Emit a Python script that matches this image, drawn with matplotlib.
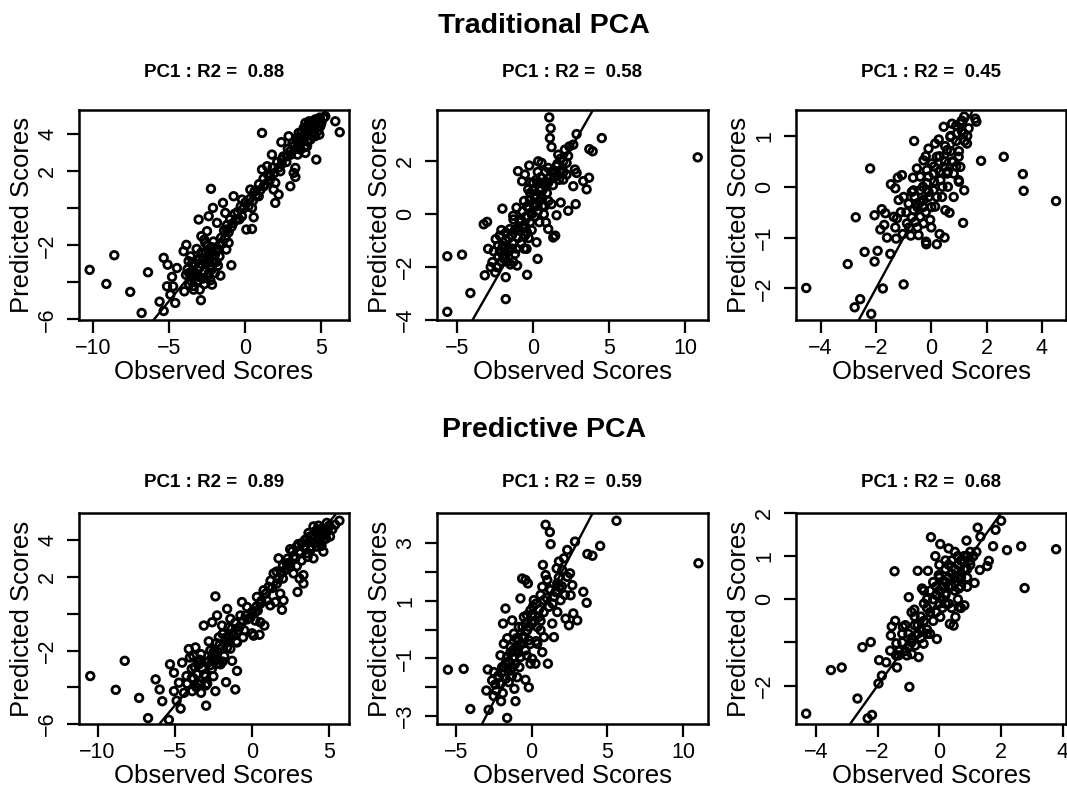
import numpy as np
import matplotlib
matplotlib.use("Agg")
import matplotlib.pyplot as plt

plt.rcParams['font.family'] = ['Liberation Sans', 'DejaVu Sans']

# ---------------- data (observed, predicted) ----------------
trad_pc1 = np.array([
    (-10.24,-3.33),(-9.14,-4.09),(-8.62,-2.54),(-7.57,-4.52),(-6.82,-5.66),(-6.40,-3.46),
    (-5.64,-5.05),(-5.37,-5.55),(-5.37,-2.68),(-5.11,-3.05),(-4.82,-3.71),(-5.15,-4.22),
    (-4.61,-5.12),(-4.93,-4.67),(-4.75,-4.22),(-4.50,-3.23),(-4.06,-2.32),(-3.88,-1.98),
    (-4.01,-4.49),(-3.73,-2.86),(-3.51,-3.41),(-3.40,-4.40),(-3.18,-3.95),(-2.92,-4.97),
    (-3.07,-0.61),(-2.89,-1.51),(-2.41,-0.43),(-2.26,1.05),(-2.13,0.02),(-2.52,-1.24),
    (-2.63,-1.87),(-2.30,-2.41),(-2.08,-2.95),(-2.19,-4.13),(-1.64,-3.64),(-1.86,-0.79),
    (-1.47,0.29),(-1.32,-0.25),(-1.21,-1.15),(-1.10,-1.87),(-0.92,-3.08),(-1.25,-2.23),
    (-0.77,0.65),(-0.59,-0.61),(-0.22,-0.43),(-0.22,0.47),(0.07,-1.15),(0.44,-1.12),
    (0.33,1.01),(0.55,-0.49),(0.44,0.02),(0.88,0.65),(1.10,4.07),(1.10,2.09),(1.21,1.19),
    (1.43,2.27),(1.75,2.90),(1.64,1.73),(1.97,0.29),(2.19,0.74),(1.97,1.37),(1.86,1.01),
    (2.30,2.00),(2.41,2.63),(2.37,3.57),(2.96,1.19),(2.85,3.89),(3.18,1.91),(3.29,1.69),
    (3.29,2.18),(3.44,2.90),(3.62,3.17),(3.95,2.99),(4.06,3.35),(4.28,3.71),(3.95,4.61),
    (4.67,2.63),(4.39,4.25),(4.71,4.79),(5.15,4.88),(5.26,4.97),(5.92,4.70),(6.21,4.11),
    (4.87,3.98),(4.50,4.61),(4.17,4.25),(3.73,3.89),(3.40,3.62),(3.18,3.35),(2.96,3.08),
    (2.74,2.81),(3.51,4.07),(3.84,4.34),(4.93,4.43),
    (-3.3,-3.5),(-3.0,-3.2),(-2.8,-3.8),(-2.6,-3.0),(-2.4,-2.7),(-2.2,-3.3),(-2.0,-2.5),
    (-3.2,-2.8),(-3.6,-3.9),(-2.9,-2.4),(-2.5,-2.0),(-2.1,-1.8),(-1.8,-2.2),(-1.6,-1.6),
    (-1.4,-1.2),(-1.2,-0.9),(-1.0,-0.6),(-0.8,-0.8),(-0.5,-0.2),(-0.3,0.1),(0.0,0.3),
    (0.3,0.5),(0.6,0.9),(0.9,1.3),(1.2,1.6),(1.5,1.8),(1.8,2.2),(2.1,2.5),(2.5,2.8),
    (2.8,3.2),(3.1,3.5),(3.4,3.8),(3.7,4.1),(4.0,4.4),(4.3,4.6),(4.6,4.5),(4.8,4.2),
    (4.4,3.9),(4.1,3.6),(3.9,3.3),(-3.4,-4.2),(-3.0,-4.4),(-2.7,-4.1),(-2.3,-3.9),
    (-3.8,-3.3),(-3.5,-3.0),(-2.6,-2.4),(-2.2,-2.1),(-1.9,-2.9),(-1.7,-2.6),(-2.4,-3.5),
    (-3.9,-3.6),(-3.7,-4.1),(-3.5,-3.6),(-3.3,-3.0),(-3.1,-3.7),(-2.9,-3.0),(-2.7,-3.4),
    (-2.5,-2.9),(-2.3,-3.1),(-2.1,-2.6),(-1.9,-2.3),(-1.7,-2.0),(-1.5,-1.9),(-1.3,-1.6),
    (-1.1,-1.3),(-0.9,-1.0),(-0.7,-0.3),(-0.4,-0.6),(-0.1,0.0),(0.2,0.1),(0.5,0.4),
    (0.7,0.7),(1.0,1.0),(1.3,1.3),(1.6,1.5),(1.9,1.9),(2.2,2.2),(2.4,2.4),(2.7,2.5),
    (3.0,2.9),(3.3,3.2),(3.6,3.6),(3.8,3.8),(4.1,4.1),(4.3,4.3),(4.5,4.1),(4.6,4.8),
    (4.8,4.6),(4.4,4.5),(4.2,4.7),(4.0,3.9),(3.7,3.6),(4.9,4.9),(5.0,4.6),(4.6,3.9),
    (-3.6,-2.6),(-3.2,-2.2),(-2.7,-1.7),(-2.8,-2.8),(-3.0,-2.7),(-2.5,-3.7),(-3.7,-3.5),
    (-2.0,-3.5),(-1.8,-3.1),
])

trad_pc2 = np.array([
    (-5.66,-3.69),(-5.66,-1.59),(-4.69,-1.53),(-4.14,-2.98),(-3.19,-2.31),(-2.97,-1.31),
    (-3.26,-0.38),(-3.04,-0.29),(-2.69,-1.81),(-2.47,-0.94),(-2.20,-0.81),(-2.03,0.21),
    (-1.81,-2.38),(-1.81,-3.21),(-2.31,-1.19),(-1.98,-1.56),(-1.65,-1.31),(-1.54,-0.56),
    (-1.32,-0.06),(-1.10,0.25),(-1.06,-1.94),(-1.32,-1.81),(-1.00,1.63),(-0.73,1.25),
    (-0.55,1.50),(-0.40,-2.29),(-0.26,1.84),(-0.33,0.94),(-0.22,0.56),(-0.66,-0.44),
    (-0.55,-0.81),(-0.44,-1.31),(0.00,1.19),(0.29,-1.69),(0.22,-1.06),(0.33,2.00),
    (0.55,1.94),(0.55,0.94),(0.77,0.31),(0.84,-0.31),(1.06,3.66),(1.15,3.25),(1.10,2.88),
    (1.21,2.54),(0.99,1.75),(0.99,-0.56),(1.32,-0.88),(1.45,-0.81),(1.54,-0.04),(1.21,0.38),
    (1.65,2.25),(1.81,0.44),(1.98,1.31),(2.09,2.44),(2.31,0.13),(2.38,2.56),(2.64,2.63),
    (2.64,1.06),(2.80,0.38),(2.86,3.03),(2.75,1.69),(2.86,1.56),(3.30,1.25),(3.52,0.94),
    (3.68,1.38),(3.70,2.46),(3.92,2.38),(4.52,2.88),(10.84,2.15),(2.20,1.94),(1.98,2.00),
    (1.76,1.63),(1.54,1.81),
    (-2.3,-1.6),(-2.0,-1.2),(-1.8,-1.0),(-1.6,-1.4),(-1.4,-0.8),(-1.2,-0.6),(-1.0,-0.9),
    (-0.9,-0.3),(-0.7,-0.5),(-0.5,-0.1),(-0.3,0.2),(-0.2,-0.3),(0.0,0.4),(0.2,0.7),
    (0.4,0.5),(0.5,1.0),(0.7,1.2),(0.9,0.8),(1.1,1.4),(1.3,1.1),(1.5,1.6),(1.7,1.3),
    (-1.9,-1.7),(-1.5,-1.9),(-1.1,-1.3),(-0.8,-1.1),(-0.4,-0.7),(0.1,-0.1),(0.3,0.1),
    (0.6,0.3),(-0.6,0.5),(-0.2,0.8),(0.2,1.3),(-1.3,-0.2),(-2.1,-0.6),(1.9,1.7),(2.2,1.5),
    (0.8,1.6),(-2.6,-1.4),(-2.8,-2.0),
    (-2.4,-2.0),(-2.2,-1.4),(-1.9,-1.3),(-1.7,-1.8),(-1.6,-0.9),(-1.3,-1.1),(-1.2,-1.5),
    (-1.0,-0.5),(-0.8,-0.2),(-0.7,0.1),(-0.5,-0.5),(-0.4,0.3),(-0.3,-0.9),(-0.1,0.0),
    (0.1,0.6),(0.2,0.3),(0.4,0.9),(0.5,1.4),(0.6,0.6),(0.8,1.1),(1.0,1.2),(1.2,1.6),
    (1.4,1.4),(1.6,1.9),(1.8,2.1),(2.0,1.6),(2.3,2.2),(0.0,0.9),(-0.2,1.2),(0.3,1.6),
    (-0.6,-1.3),(-0.9,-0.6),(-1.4,-1.3),(-1.8,-0.7),(-2.1,-1.8),(-2.5,-2.2),(-0.1,-0.6),
    (0.4,-0.3),(0.7,0.0),(1.0,0.5),
])

trad_pc3 = np.array([
    (-4.52,-1.99),(-3.02,-1.52),(-2.73,-0.60),(-2.77,-2.37),(-2.57,-2.21),(-2.41,-1.28),
    (-2.17,-2.50),(-2.05,-1.47),(-1.94,-1.26),(-2.21,0.36),(-2.05,-0.56),(-1.79,-0.44),
    (-1.66,-0.52),(-1.84,-0.84),(-1.70,-0.75),(-1.75,-2.00),(-1.60,-1.00),(-1.48,-1.32),
    (-1.46,0.05),(-1.30,-0.03),(-1.21,0.18),(-1.06,0.23),(-1.36,-0.59),(-1.24,-0.62),
    (-1.27,-1.02),(-1.00,-1.92),(-1.18,-0.26),(-1.03,-0.93),(-0.88,-0.72),(-0.74,-0.96),
    (-0.66,0.18),(-0.62,0.90),(-0.52,0.36),(-0.46,-0.95),(-0.52,-0.33),(-0.40,-0.07),
    (-0.28,0.52),(-0.19,-1.08),(-0.18,-1.13),(-0.10,0.75),(-0.04,-0.65),(0.08,0.26),
    (0.20,-1.13),(0.30,-0.93),(0.48,-1.00),(0.27,0.93),(0.39,-0.20),(0.45,1.18),
    (0.51,-0.46),(0.66,-0.51),(0.75,1.24),(0.81,-0.20),(0.99,0.59),(1.05,1.24),
    (1.15,-0.71),(1.19,-0.07),(1.19,1.38),(1.29,0.85),(1.35,1.15),(1.59,1.34),(1.63,1.28),
    (1.80,0.51),(2.62,0.59),(3.31,0.25),(3.34,-0.08),(4.51,-0.28),
    (-0.40,-0.59),(-0.64,-0.46),(-0.28,-0.26),(-0.16,0.07),(0.08,-0.07),(0.02,0.46),
    (0.20,0.59),(0.57,0.72),(0.69,0.98),(0.93,1.05),(0.57,0.26),(0.33,0.13),(-0.16,0.33),
    (-0.82,-0.33),(-1.00,-0.20),(-0.64,-0.07),(-0.40,0.20),(-0.58,-0.69),(1.05,0.39),
    (0.99,0.13),(0.81,0.26),(1.17,1.05),(0.75,0.49),(0.45,0.39),(0.14,0.85),(-0.10,-0.20),
    (-0.28,-0.72),(0.14,-0.39),
    (-0.9,-0.5),(-0.7,-0.6),(-0.5,-0.4),(-0.3,-0.4),(-0.1,-0.1),(0.1,0.1),(0.3,0.3),
    (0.5,0.5),(0.7,0.7),(0.9,0.9),(1.1,1.1),(1.2,0.9),(1.0,0.7),(0.8,0.5),(0.6,0.3),
    (0.4,0.0),(0.2,-0.2),(0.0,-0.4),(-0.2,-0.5),(-0.4,-0.3),(-0.6,-0.2),(-0.8,-0.8),
    (-0.3,0.0),(-0.1,0.2),(0.1,0.4),(0.3,0.6),(0.5,0.8),(0.7,1.0),(0.9,1.2),(1.1,1.3),
    (-1.1,-0.5),(-0.5,-0.8),(0.0,-0.8),(0.6,0.0),(0.9,0.4),(-0.2,0.6),(1.3,1.0),(1.0,0.1),
    (-0.7,-0.1),(-1.3,-0.8),
])

pred_pc1 = np.array([
    (-10.47,-3.39),(-8.82,-4.14),(-8.24,-2.56),(-7.31,-4.58),(-6.73,-5.68),(-6.24,-3.57),
    (-5.98,-4.12),(-5.81,-4.76),(-5.31,-2.75),(-5.38,-5.77),(-5.05,-4.21),(-5.05,-3.21),
    (-4.88,-4.73),(-4.62,-5.16),(-4.73,-3.75),(-4.52,-2.66),(-4.24,-3.39),(-4.02,-2.38),
    (-4.09,-1.92),(-3.87,-4.21),(-3.66,-1.83),(-3.55,-3.30),(-3.44,-2.75),(-3.33,-3.85),
    (-3.12,-0.64),(-2.97,-5.00),(-2.80,-1.50),(-2.58,-0.46),(-2.37,0.95),(-2.43,-2.20),
    (-2.26,-0.09),(-2.15,-1.28),(-2.04,-2.75),(-2.37,-4.21),(-1.94,-0.64),(-1.68,-3.72),
    (-1.61,0.27),(-1.61,-1.83),(-1.51,-0.73),(-1.40,-0.27),(-1.29,-2.56),(-1.08,-4.12),
    (-0.97,-3.11),(-0.97,-1.56),(-0.75,-0.09),(-0.65,0.64),(-0.58,-1.28),(-0.32,0.37),
    (0.00,-1.06),(0.11,-1.19),(0.22,-0.37),(0.49,-1.14),(0.54,-0.46),(0.80,-0.64),
    (0.32,0.92),(0.37,0.18),(0.54,0.55),(0.75,1.28),(0.97,0.73),(1.08,1.47),(1.18,0.46),
    (1.40,2.20),(1.51,0.64),(1.72,3.02),(1.61,1.65),(1.83,1.10),(1.94,0.22),(2.04,0.73),
    (2.00,1.92),(2.26,2.75),(2.47,3.52),(2.69,2.20),(2.90,3.66),(2.95,1.19),(3.08,1.92),
    (3.23,3.85),(3.33,1.65),(3.33,2.11),(3.55,3.30),(3.66,4.40),(3.98,4.76),(3.98,3.02),
    (4.19,3.66),(4.52,4.58),(4.62,3.39),(4.84,4.95),(5.05,4.21),(5.38,4.85),(5.66,5.07),
    (2.69,3.11),(3.12,3.30),(3.44,4.03),(3.76,4.21),(4.30,4.40),(4.73,4.30),(4.41,3.85),
    (3.87,3.66),(2.47,2.56),
    (-3.8,-3.5),(-3.5,-3.8),(-3.2,-3.0),(-3.0,-3.4),(-2.8,-2.6),(-2.6,-3.0),(-2.4,-2.3),
    (-2.2,-2.7),(-2.0,-1.9),(-1.8,-2.3),(-1.6,-1.5),(-1.4,-1.9),(-1.2,-1.1),(-1.0,-1.5),
    (-0.8,-0.7),(-0.5,-0.9),(-0.3,-0.3),(0.0,0.1),(0.3,0.4),(-3.6,-4.0),(-3.3,-4.3),
    (-2.9,-3.8),(-2.5,-3.4),(-3.9,-3.0),(-3.4,-2.5),(-2.7,-2.0),(-2.3,-1.6),(1.2,1.8),
    (1.6,2.3),(2.0,2.6),(2.3,3.0),(2.6,3.4),(3.0,3.8),(3.5,4.0),(4.0,4.3),(4.4,4.6),
    (4.6,4.0),(4.2,3.9),(3.8,3.5),
    (-4.2,-3.8),(-3.9,-3.5),(-3.7,-2.9),(-3.5,-2.6),(-3.3,-2.2),(-3.1,-3.3),(-2.9,-2.6),
    (-2.7,-2.8),(-2.5,-2.1),(-2.3,-2.5),(-2.1,-1.7),(-1.9,-1.1),(-1.7,-1.3),(-1.5,-1.2),
    (-1.3,-0.8),(-1.1,-0.5),(-0.9,-0.9),(-0.6,-0.4),(-0.4,-0.1),(-0.1,-0.2),(0.2,0.1),
    (0.6,0.7),(0.9,1.1),(1.3,1.4),(1.7,1.9),(1.9,2.3),(2.2,2.4),(2.5,2.8),(2.8,3.0),
    (3.1,3.4),(3.4,3.6),(3.7,3.9),(3.9,4.1),(4.1,4.5),(4.3,4.8),(4.5,4.3),(4.7,4.6),
    (4.9,4.5),(5.0,4.8),(5.2,4.6),(4.8,4.1),(4.5,3.7),(3.6,3.1),(3.2,2.9),(2.9,2.6),
    (-4.4,-4.3),(-3.0,-3.9),(-2.6,-2.4),(-3.8,-2.3),(-1.9,-2.6),
])

pred_pc2 = np.array([
    (-5.52,-1.39),(-4.48,-1.36),(-4.04,-2.75),(-2.98,-2.11),(-2.89,-1.38),(-2.83,-2.78),
    (-2.60,-1.76),(-2.49,-1.47),(-2.32,-2.11),(-2.01,-2.48),(-2.05,-0.89),(-1.83,-0.49),
    (-1.88,0.21),(-1.72,0.73),(-1.61,-3.06),(-1.50,-1.82),(-1.39,-1.42),(-1.28,0.32),
    (-1.13,-2.05),(-1.06,-2.48),(-0.95,-1.65),(-0.84,-0.37),(-0.73,1.08),(-0.62,1.77),
    (-0.40,1.72),(-0.24,1.60),(-0.40,-1.74),(-0.18,-2.00),(-0.07,-1.18),(0.04,-1.01),
    (0.26,-1.18),(0.38,-0.49),(0.49,0.44),(0.75,2.24),(0.71,-0.78),(0.93,1.89),(0.93,3.63),
    (1.08,-1.18),(1.21,3.38),(1.26,2.96),(1.37,0.21),(1.48,-0.26),(1.66,2.12),(1.70,0.61),
    (1.81,1.48),(2.14,2.47),(2.25,0.38),(2.36,2.76),(2.47,0.15),(2.54,1.95),(2.58,1.19),
    (2.69,1.54),(2.76,0.56),(2.87,3.05),(3.02,0.32),(3.42,1.31),(3.64,0.93),(3.69,2.62),
    (4.02,2.56),(4.53,2.90),(5.61,3.77),(11.02,2.30),
    (1.81,2.36),(2.03,2.06),(2.36,1.83),(1.92,1.02),(1.26,1.37),(0.82,1.02),(0.71,1.48),
    (0.15,1.02),(-0.07,0.67),(-0.51,0.44),(-0.84,0.09),(-1.17,-0.14),(-1.39,-0.60),
    (-1.61,-0.95),(-1.94,-1.30),(-2.16,-1.65),(-0.62,-0.26),(-0.29,-0.02),(0.04,0.21),
    (0.38,0.09),(0.82,-0.26),(0.60,-0.02),(-0.95,-0.60),(-1.17,-0.95),(-0.73,-0.95),
    (-0.40,-0.72),(-0.18,-0.37),(-1.28,-1.30),(-1.72,-1.18),(-2.05,-1.88),(1.15,0.79),
    (1.48,1.14),(1.70,1.60),(1.04,1.72),
    (-2.4,-1.9),(-2.2,-1.6),(-2.0,-1.5),(-1.8,-1.3),(-1.7,-1.7),(-1.5,-1.1),(-1.4,-0.8),
    (-1.2,-0.7),(-1.1,-1.2),(-1.0,-0.3),(-0.9,-0.8),(-0.7,-0.5),(-0.6,0.1),(-0.5,-0.3),
    (-0.4,0.2),(-0.3,0.5),(-0.2,0.1),(-0.1,-0.5),(0.0,0.5),(0.1,0.8),(0.2,0.3),(0.3,0.9),
    (0.5,0.7),(0.6,1.2),(0.8,0.6),(1.0,1.1),(1.2,1.4),(1.4,0.9),(1.6,1.3),(1.8,1.8),
    (2.0,1.5),(2.2,1.2),(-1.9,-2.2),(-1.3,-1.6),(-0.8,-1.3),(-0.3,-0.9),(0.3,-0.4),
    (0.6,0.3),(-2.5,-2.3),(-1.6,-0.3),
])

pred_pc3 = np.array([
    (-4.31,-2.65),(-3.51,-1.64),(-3.16,-1.58),(-2.65,-2.30),(-2.49,-1.11),(-2.32,-2.76),
    (-2.18,-2.68),(-2.22,-0.99),(-1.97,-1.95),(-1.95,-1.41),(-1.86,-1.77),(-1.72,-1.46),
    (-1.59,-1.19),(-1.57,-0.84),(-1.54,-0.63),(-1.45,0.65),(-1.43,-0.50),(-1.39,-1.02),
    (-1.37,-1.58),(-1.32,-1.30),(-1.18,-0.64),(-1.05,-1.30),(-0.99,0.05),(-0.97,-2.03),
    (-0.89,-1.27),(-0.81,-0.24),(-0.78,-1.07),(-0.70,0.66),(-0.67,-1.34),(-0.56,0.25),
    (-0.51,-1.03),(-0.40,-0.80),(-0.37,0.66),(-0.27,1.44),(-0.13,1.00),(-0.08,-0.92),
    (0.03,1.28),(-0.02,0.56),(0.03,-0.41),(0.19,0.13),(0.30,1.18),(0.34,-0.57),(0.46,-0.61),
    (0.52,-0.41),(0.63,0.25),(0.63,-0.18),(0.81,-0.14),(0.88,1.36),(0.90,0.29),(1.14,0.38),
    (1.24,1.66),(1.33,1.45),(1.31,0.68),(1.55,0.77),(1.60,0.89),(1.74,1.23),(1.82,1.61),
    (2.00,1.82),(2.19,1.14),(2.65,1.23),(2.76,0.26),(3.78,1.16),
    (-1.2,-1.0),(-1.0,-0.8),(-0.8,-0.6),(-0.6,-0.4),(-0.4,-0.2),(-0.2,0.0),(0.0,0.2),
    (0.2,0.4),(0.4,0.6),(0.6,0.8),(0.8,1.0),(1.0,1.1),(-1.1,-0.6),(-0.9,-0.3),(-0.7,-0.8),
    (-0.5,-0.1),(-0.3,0.2),(-0.1,-0.3),(0.1,0.0),(0.3,0.3),(0.5,0.2),(0.7,0.5),(0.9,0.7),
    (0.4,0.9),(0.2,0.7),(0.0,0.5),(-0.2,-0.5),(-0.4,-0.7),(-0.6,-0.9),(0.6,1.0),(0.8,0.9),
    (1.0,0.8),(-0.1,0.3),(0.1,-0.2),(0.3,-0.1),(-1.3,-1.2),(-0.9,-1.0),(0.5,0.5),(0.7,0.3),
    (0.2,0.1),
    (-1.4,-1.3),(-1.2,-0.8),(-1.0,-1.1),(-0.8,-0.4),(-0.7,-0.6),(-0.5,-0.5),(-0.4,0.0),
    (-0.3,-0.3),(-0.1,0.1),(0.0,-0.1),(0.1,0.3),(0.2,-0.1),(0.3,0.5),(0.4,0.3),(0.5,0.7),
    (0.6,0.5),(0.7,0.9),(0.8,0.7),(0.9,1.0),(1.0,0.9),(1.1,1.0),(0.9,0.5),(0.6,0.0),
    (0.4,-0.2),(0.0,0.8),(-0.2,0.4),(-0.6,-0.7),(-0.9,-0.9),(-1.1,-1.2),(0.2,0.9),(0.5,1.1),
    (-0.3,-0.8),(0.7,-0.2),(-0.5,0.2),(1.2,1.1),(0.3,0.8),
])

row_titles = ["Traditional PCA", "Predictive PCA"]
r2_values = [["0.88", "0.58", "0.45"], ["0.89", "0.59", "0.68"]]
panel_data = [[trad_pc1, trad_pc2, trad_pc3], [pred_pc1, pred_pc2, pred_pc3]]

x_ticks = [[[-10, -5, 0, 5], [-5, 0, 5, 10], [-4, -2, 0, 2, 4]],
           [[-10, -5, 0, 5], [-5, 0, 5, 10], [-4, -2, 0, 2, 4]]]
y_ticks = [[[-6, -4, -2, 0, 2, 4], [-4, -2, 0, 2], [-2, -1, 0, 1]],
           [[-6, -4, -2, 0, 2, 4], [-3, -2, -1, 0, 1, 2, 3], [-2, -1, 0, 1, 2]]]
y_ticklabels = [[["\u22126", "", "\u22122", "", "2", "4"], ["\u22124", "\u22122", "0", "2"],
                 ["\u22122", "\u22121", "0", "1"]],
                [["\u22126", "", "\u22122", "", "2", "4"],
                 ["\u22123", "", "\u22121", "", "1", "", "3"],
                 ["\u22122", "", "0", "1", "2"]]]

# ---------------- layout (pixels) ----------------
W, H = 1067, 786
col_left = [79, 437, 796]
col_right = [349, 708, 1066]
row_top = [110, 513]
row_bottom = [320, 724]
x_lims = [[(-10.94, 6.82), (-6.34, 11.52), (-4.89, 4.87)],
          [(-11.2, 6.28), (-6.24, 11.65), (-4.64, 4.10)]]
y_lims = [[(-6.04, 5.31), (-3.98, 3.94), (-2.62, 1.51)],
          [(-5.99, 5.49), (-3.27, 4.04), (-2.89, 2.0)]]
title_baseline = [33, 437]
sub_baseline = [77, 487]

fig = plt.figure(figsize=(W / 100, H / 100), dpi=100)

for r in range(2):
    fig.text(544 / W, 1 - title_baseline[r] / H, row_titles[r], ha='center',
             va='baseline', fontsize=20.5, fontweight='bold')
    for c in range(3):
        l, rr = col_left[c], col_right[c]
        t, b = row_top[r], row_bottom[r]
        ax = fig.add_axes([l / W, 1 - b / H, (rr - l) / W, (b - t) / H])
        d = panel_data[r][c]
        ax.scatter(d[:, 0], d[:, 1], s=30, facecolors='none', edgecolors='black',
                   linewidths=2.0, zorder=3)
        ax.axline((0, 0), slope=1, color='black', lw=1.7, zorder=2)
        ax.set_xlim(*x_lims[r][c])
        ax.set_ylim(*y_lims[r][c])
        ax.set_xticks(x_ticks[r][c])
        ax.set_xticklabels([str(v).replace('-', '\u2212') for v in x_ticks[r][c]])
        ax.set_yticks(y_ticks[r][c])
        ax.set_yticklabels(y_ticklabels[r][c], rotation=90, va='center')
        ax.tick_params(axis='both', direction='out', length=9, width=1.6,
                       labelsize=15.5, color='black')
        ax.tick_params(axis='x', pad=4)
        ax.tick_params(axis='y', pad=6)
        for sp in ax.spines.values():
            sp.set_linewidth(1.8)
        cx = (l + rr) / 2
        fig.text(cx / W, 1 - (b + 59) / H, "Observed Scores", ha='center',
                 va='baseline', fontsize=18.5)
        fig.text((l - 57) / W, 1 - ((t + b) / 2) / H, "Predicted Scores", ha='center',
                 va='center', rotation=90, fontsize=18.5)
        fig.text(cx / W, 1 - sub_baseline[r] / H, "PC1 : R2 =  " + r2_values[r][c],
                 ha='center', va='baseline', fontsize=13.5, fontweight='bold')

fig.savefig("out.png", dpi=100)
